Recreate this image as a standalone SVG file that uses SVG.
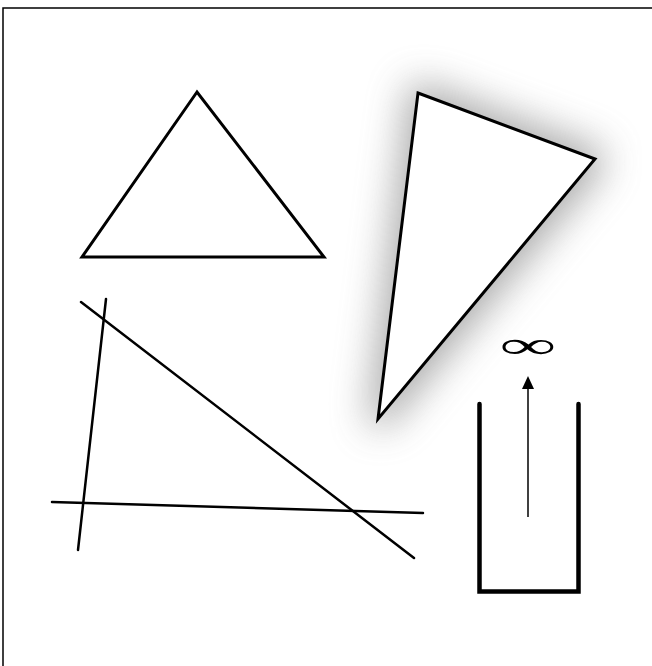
<svg xmlns="http://www.w3.org/2000/svg" width="652" height="666" viewBox="0 0 652 666">
<style>
.s{fill:none;stroke:#000;stroke-linecap:round;stroke-linejoin:miter}
.t3{stroke-width:3}
.l{stroke-width:2.5}
</style>
<defs>
<filter id="sh" x="-60%" y="-60%" width="220%" height="220%">
<feMorphology operator="dilate" radius="9"/>
<feGaussianBlur stdDeviation="19"/>
</filter>
</defs>
<rect width="652" height="666" fill="#fff"/>
<g id="frame">
<path d="M3,666 L3,8 L652,8" fill="none" stroke="#000" stroke-width="1.5"/>
</g>
<g id="triangle1">
<polygon class="s t3" points="197,92 82,257 324,257"/>
</g>
<g id="triangle2">
<polygon points="418,93 595,159 378,419" fill="#777" opacity="0.6" filter="url(#sh)"/>
<polygon points="418,93 595,159 378,419" fill="#fff" stroke="#000" stroke-width="3"/>
</g>
<g id="lines">
<line class="s l" x1="81" y1="302" x2="414" y2="558"/>
<line class="s l" x1="106" y1="299" x2="78" y2="550"/>
<line class="s l" x1="52" y1="502" x2="423" y2="513"/>
</g>
<g id="container">
<path class="s" d="M479.5,404 L479.5,591.5 L578.5,591.5 L578.5,404" stroke-width="4.5"/>
</g>
<g id="connectors">
<line x1="528" y1="517" x2="528" y2="389" stroke="#000" stroke-width="1.5" />
<path d="M522,389 L528,376 L534,389 Z" fill="#000"/>
</g>
<g id="label">
<text x="0" y="0" transform="translate(528,358) scale(2.1,1)" text-anchor="middle" font-family="Liberation Serif, serif" font-size="38">∞</text>
</g>
</svg>
